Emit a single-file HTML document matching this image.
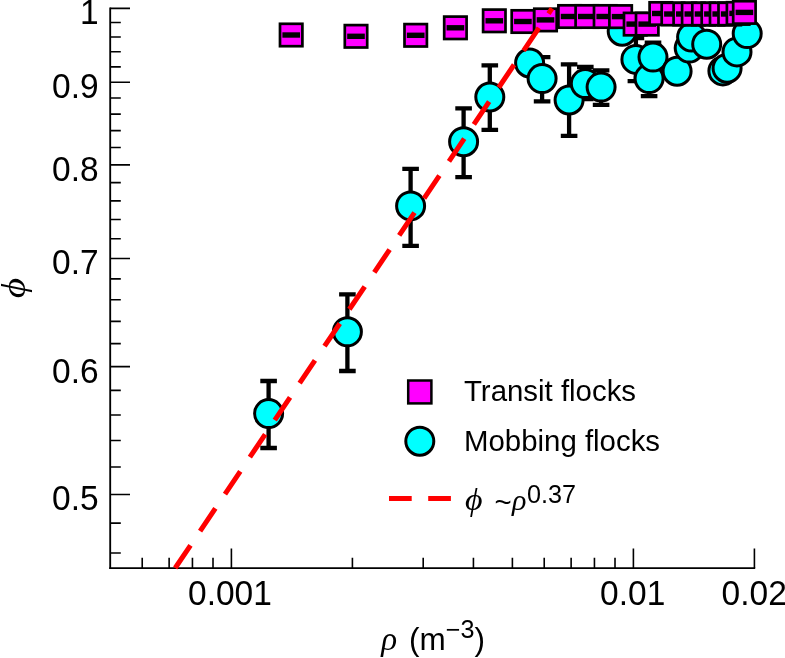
<!DOCTYPE html>
<html><head><meta charset="utf-8"><title>plot</title>
<style>html,body{margin:0;padding:0;background:#fff}svg{display:block;will-change:transform}text{font-family:"Liberation Sans",sans-serif;fill:#000}.it{font-family:"Liberation Serif",serif;font-style:italic}</style></head><body>
<svg width="785" height="658" viewBox="0 0 785 658">
<rect width="785" height="658" fill="#fff"/>
<g stroke="#000" stroke-width="1.6" fill="none" stroke-linecap="butt">
<path d="M110.2 7.60V568.9" stroke-width="1.85"/><path d="M109.3 568.1H755.21" stroke-width="1.7"/>
<path d="M110.2 8.40h19.8M110.2 22.57h10.6M110.2 37.03h10.6M110.2 51.79h10.6M110.2 66.88h10.6M110.2 82.29h19.8M110.2 98.05h10.6M110.2 114.17h10.6M110.2 130.67h10.6M110.2 147.57h10.6M110.2 164.89h19.8M110.2 182.65h10.6M110.2 200.86h10.6M110.2 219.57h10.6M110.2 238.78h10.6M110.2 258.54h19.8M110.2 278.87h10.6M110.2 299.80h10.6M110.2 321.38h10.6M110.2 343.65h10.6M110.2 366.64h19.8M110.2 390.42h10.6M110.2 415.03h10.6M110.2 440.53h10.6M110.2 467.00h10.6M110.2 494.50h19.8M110.2 523.13h10.6M110.2 552.98h10.6M142.22 568.0v-10.3M169.13 568.0v-10.3M192.44 568.0v-10.3M213.01 568.0v-10.3M231.40 568.0v-19.5M352.41 568.0v-10.3M423.20 568.0v-10.3M473.43 568.0v-10.3M512.39 568.0v-10.3M544.22 568.0v-10.3M571.13 568.0v-10.3M594.44 568.0v-10.3M615.01 568.0v-10.3M633.40 568.0v-19.5M754.41 568.0v-19.5"/>
</g>
<text transform="translate(98.6,24.30) scale(1,1.025)" font-size="33.5" text-anchor="end">1</text>
<text transform="translate(98.6,98.19) scale(1,1.025)" font-size="33.5" text-anchor="end">0.9</text>
<text transform="translate(98.6,180.79) scale(1,1.025)" font-size="33.5" text-anchor="end">0.8</text>
<text transform="translate(98.6,274.44) scale(1,1.025)" font-size="33.5" text-anchor="end">0.7</text>
<text transform="translate(98.6,382.54) scale(1,1.025)" font-size="33.5" text-anchor="end">0.6</text>
<text transform="translate(98.6,510.40) scale(1,1.025)" font-size="33.5" text-anchor="end">0.5</text>
<text transform="translate(229.90,605.3) scale(1,1.025)" font-size="33.5" text-anchor="middle">0.001</text>
<text transform="translate(632.70,605.3) scale(1,1.025)" font-size="33.5" text-anchor="middle">0.01</text>
<text transform="translate(754.21,605.3) scale(1,1.025)" font-size="33.5" text-anchor="middle">0.02</text>
<text class="it" x="381.2" y="649.5" font-size="33">ρ</text>
<text x="409" y="649.5" font-size="31.5">(m<tspan dy="-11.2" font-size="25.2">−3</tspan><tspan dy="11.2">)</tspan></text>
<text class="it" font-size="31" text-anchor="middle" transform="translate(25.1,288) rotate(-90) scale(1.265,1.10)">ϕ</text>
<g stroke="#000" stroke-width="4.3" fill="none">
<path d="M268.6 381.0V448.0M260.3 381.0h16.6M260.3 448.0h16.6M347.4 294.3V371.0M339.1 294.3h16.6M339.1 371.0h16.6M410.6 168.8V245.8M402.3 168.8h16.6M402.3 245.8h16.6M463.6 108.4V177.1M455.3 108.4h16.6M455.3 177.1h16.6M489.8 65.3V129.8M481.5 65.3h16.6M481.5 129.8h16.6M529.6 55.0V71.0M521.3 55.0h16.6M521.3 71.0h16.6M542.1 57.1V101.4M533.8 57.1h16.6M533.8 101.4h16.6M569.1 64.4V135.9M560.8 64.4h16.6M560.8 135.9h16.6M585.3 67.0V99.0M577.0 67.0h16.6M577.0 99.0h16.6M601.1 70.4V104.9M592.8 70.4h16.6M592.8 104.9h16.6M622.2 23.0V39.5M613.9 23.0h16.6M613.9 39.5h16.6M635.9 38.0V81.1M627.6 38.0h16.6M627.6 81.1h16.6M649.1 60.8V96.2M640.8 60.8h16.6M640.8 96.2h16.6M653.0 42.7V71.5M644.7 42.7h16.6M644.7 71.5h16.6M677.1 64.0V78.0M668.8 64.0h16.6M668.8 78.0h16.6M689.2 41.0V55.0M680.9 41.0h16.6M680.9 55.0h16.6M691.6 30.0V44.0M683.3 30.0h16.6M683.3 44.0h16.6M706.7 37.0V51.0M698.4 37.0h16.6M698.4 51.0h16.6M722.9 64.0V78.0M714.6 64.0h16.6M714.6 78.0h16.6M727.1 62.0V75.0M718.8 62.0h16.6M718.8 75.0h16.6M737.0 45.0V59.0M728.7 45.0h16.6M728.7 59.0h16.6M747.2 27.0V40.0M738.9 27.0h16.6M738.9 40.0h16.6"/></g>
<g fill="#00ffff" stroke="#000" stroke-width="3">
<circle cx="268.6" cy="413.6" r="14"/>
<circle cx="347.4" cy="331.8" r="14"/>
<circle cx="410.6" cy="205.9" r="14"/>
<circle cx="463.6" cy="141.7" r="14"/>
<circle cx="489.8" cy="97.0" r="14"/>
<circle cx="529.6" cy="63.0" r="14"/>
<circle cx="542.1" cy="78.6" r="14"/>
<circle cx="569.1" cy="100.0" r="14"/>
<circle cx="585.3" cy="83.6" r="14"/>
<circle cx="601.1" cy="87.1" r="14"/>
<circle cx="622.2" cy="31.2" r="14"/>
<circle cx="635.9" cy="59.4" r="14"/>
<circle cx="649.1" cy="78.6" r="14"/>
<circle cx="653.0" cy="57.1" r="14"/>
<circle cx="677.1" cy="71.2" r="14"/>
<circle cx="689.2" cy="48.1" r="14"/>
<circle cx="691.6" cy="37.1" r="14"/>
<circle cx="706.7" cy="44.2" r="14"/>
<circle cx="722.9" cy="70.9" r="14"/>
<circle cx="727.1" cy="68.2" r="14"/>
<circle cx="737.0" cy="51.9" r="14"/>
<circle cx="747.2" cy="33.6" r="14"/>
</g>
<rect x="280.0" y="23.8" width="22.4" height="22.4" fill="#ff00ff" stroke="#000" stroke-width="2.7"/><rect x="282.4" y="32.3" width="17.6" height="5.4" fill="#000"/>
<rect x="344.8" y="25.1" width="22.4" height="22.4" fill="#ff00ff" stroke="#000" stroke-width="2.7"/><rect x="347.2" y="33.6" width="17.6" height="5.4" fill="#000"/>
<rect x="404.5" y="24.1" width="22.4" height="22.4" fill="#ff00ff" stroke="#000" stroke-width="2.7"/><rect x="406.9" y="32.6" width="17.6" height="5.4" fill="#000"/>
<rect x="444.2" y="16.6" width="22.4" height="22.4" fill="#ff00ff" stroke="#000" stroke-width="2.7"/><rect x="446.6" y="25.1" width="17.6" height="5.4" fill="#000"/>
<rect x="483.1" y="9.6" width="22.4" height="22.4" fill="#ff00ff" stroke="#000" stroke-width="2.7"/><rect x="485.5" y="18.1" width="17.6" height="5.4" fill="#000"/>
<rect x="511.7" y="10.3" width="22.4" height="22.4" fill="#ff00ff" stroke="#000" stroke-width="2.7"/><rect x="514.1" y="18.8" width="17.6" height="5.4" fill="#000"/>
<rect x="534.3" y="8.7" width="22.4" height="22.4" fill="#ff00ff" stroke="#000" stroke-width="2.7"/><rect x="536.7" y="17.2" width="17.6" height="5.4" fill="#000"/>
<rect x="558.4" y="5.3" width="22.4" height="22.4" fill="#ff00ff" stroke="#000" stroke-width="2.7"/><rect x="560.8" y="13.8" width="17.6" height="5.4" fill="#000"/>
<rect x="575.6" y="5.3" width="22.4" height="22.4" fill="#ff00ff" stroke="#000" stroke-width="2.7"/><rect x="578.0" y="13.8" width="17.6" height="5.4" fill="#000"/>
<rect x="594.0" y="5.3" width="22.4" height="22.4" fill="#ff00ff" stroke="#000" stroke-width="2.7"/><rect x="596.4" y="13.8" width="17.6" height="5.4" fill="#000"/>
<rect x="609.4" y="5.4" width="22.4" height="22.4" fill="#ff00ff" stroke="#000" stroke-width="2.7"/><rect x="611.8" y="13.9" width="17.6" height="5.4" fill="#000"/>
<rect x="624.0" y="12.9" width="22.4" height="22.4" fill="#ff00ff" stroke="#000" stroke-width="2.7"/><rect x="626.4" y="21.4" width="17.6" height="5.4" fill="#000"/>
<rect x="636.0" y="12.9" width="22.4" height="22.4" fill="#ff00ff" stroke="#000" stroke-width="2.7"/><rect x="638.4" y="21.4" width="17.6" height="5.4" fill="#000"/>
<rect x="649.6" y="2.3" width="22.4" height="22.4" fill="#ff00ff" stroke="#000" stroke-width="2.7"/><rect x="652.0" y="10.8" width="17.6" height="5.4" fill="#000"/>
<rect x="661.7" y="2.8" width="22.4" height="22.4" fill="#ff00ff" stroke="#000" stroke-width="2.7"/><rect x="664.1" y="11.3" width="17.6" height="5.4" fill="#000"/>
<rect x="673.6" y="2.8" width="22.4" height="22.4" fill="#ff00ff" stroke="#000" stroke-width="2.7"/><rect x="676.0" y="11.3" width="17.6" height="5.4" fill="#000"/>
<rect x="682.1" y="2.8" width="22.4" height="22.4" fill="#ff00ff" stroke="#000" stroke-width="2.7"/><rect x="684.5" y="11.3" width="17.6" height="5.4" fill="#000"/>
<rect x="692.3" y="2.8" width="22.4" height="22.4" fill="#ff00ff" stroke="#000" stroke-width="2.7"/><rect x="694.7" y="11.3" width="17.6" height="5.4" fill="#000"/>
<rect x="701.7" y="2.8" width="22.4" height="22.4" fill="#ff00ff" stroke="#000" stroke-width="2.7"/><rect x="704.1" y="11.3" width="17.6" height="5.4" fill="#000"/>
<rect x="710.0" y="2.8" width="22.4" height="22.4" fill="#ff00ff" stroke="#000" stroke-width="2.7"/><rect x="712.4" y="11.3" width="17.6" height="5.4" fill="#000"/>
<rect x="718.5" y="2.8" width="22.4" height="22.4" fill="#ff00ff" stroke="#000" stroke-width="2.7"/><rect x="720.9" y="11.3" width="17.6" height="5.4" fill="#000"/>
<rect x="726.9" y="2.2" width="22.4" height="22.4" fill="#ff00ff" stroke="#000" stroke-width="2.7"/><rect x="729.3" y="10.7" width="17.6" height="5.4" fill="#000"/>
<rect x="733.2" y="1.2" width="22.4" height="22.4" fill="#ff00ff" stroke="#000" stroke-width="2.7"/><rect x="735.6" y="9.7" width="17.6" height="5.4" fill="#000"/>
<path d="M175.2 568.0L552.0 8.4" stroke="#ff0000" stroke-width="5" stroke-dasharray="27.4 17.16" fill="none"/>
<rect x="408.2" y="380.5" width="23.2" height="22.9" fill="#ff00ff" stroke="#000" stroke-width="2.5"/>
<circle cx="419.8" cy="441.2" r="14" fill="#00ffff" stroke="#000" stroke-width="3"/>
<path d="M389 498.6H411.7M428.2 498.6H450.9" stroke="#ff0000" stroke-width="5"/>
<text x="464" y="401" font-size="29.4">Transit flocks</text>
<text x="464" y="450.6" font-size="29.4">Mobbing flocks</text>
<text class="it" font-size="30" transform="translate(465,510.2) scale(1.13,1.04)">ϕ</text>
<text x="494.5" y="511.5" font-size="29.4">~</text>
<text class="it" x="512" y="509.5" font-size="30">ρ</text>
<text x="527" y="503" font-size="25.2">0.37</text>
</svg></body></html>
